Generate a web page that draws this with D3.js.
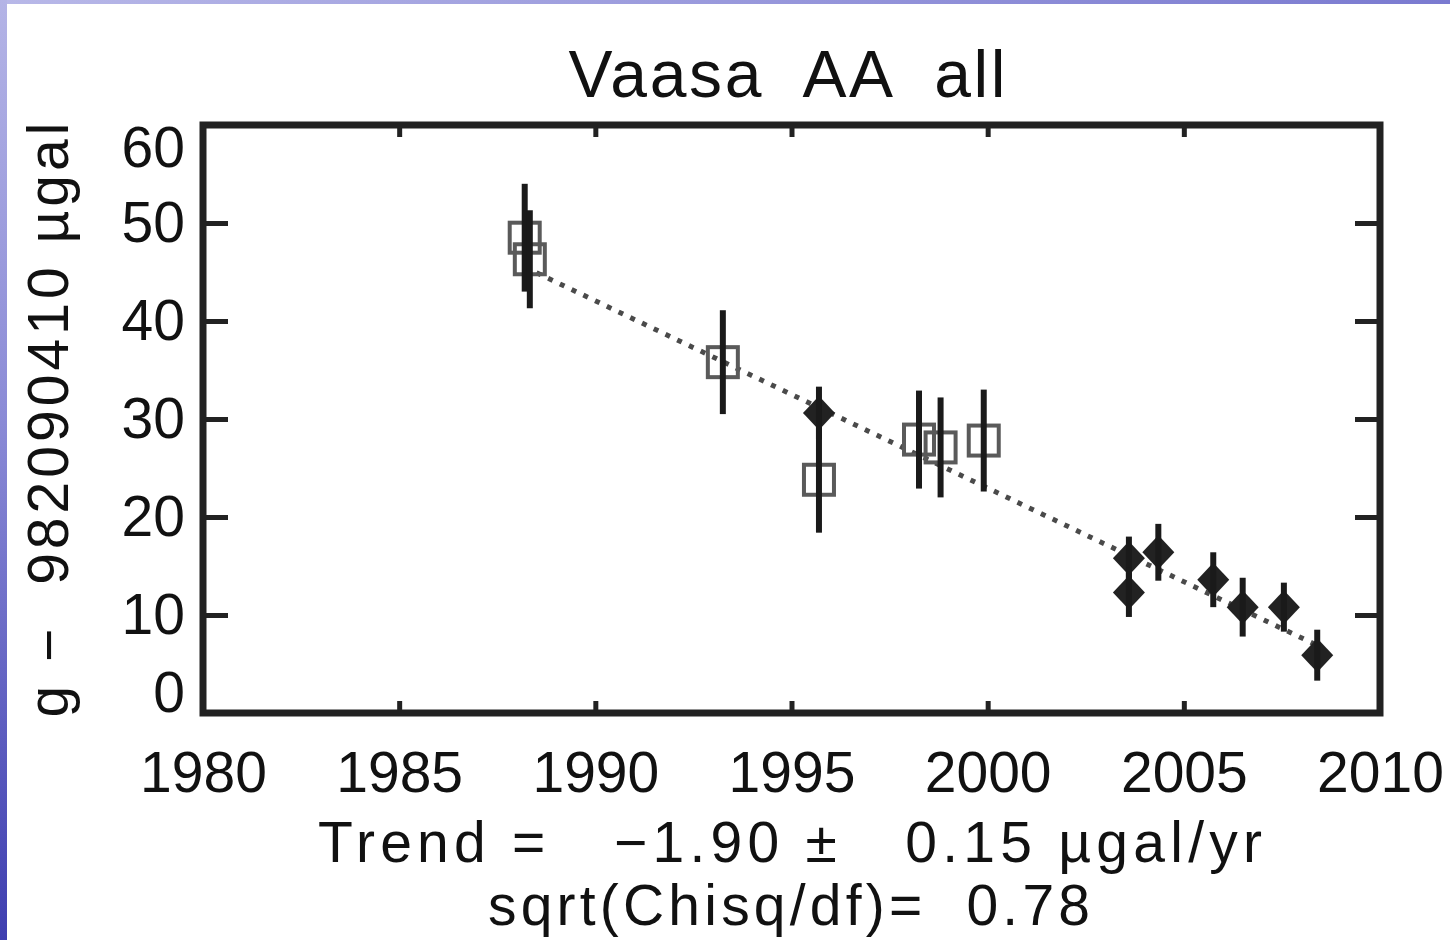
<!DOCTYPE html>
<html lang="en">
<head>
    <meta charset="UTF-8">
    <title>Vaasa AA all</title>
    <script src="https://d3js.org/d3.v7.min.js"></script>
    <style>
        body {
            margin: 0;
            background-color: #ffffff;
        }
        svg text {
            font-family: "Liberation Sans", Arial, sans-serif;
            fill: #111;
            white-space: pre;
        }
    </style>
</head>
<body>
    <svg id="chart" width="1450" height="940"></svg>

    <script>
        // Absolute gravity values, g - 982090410 (µgal)
        const squareYears  = [1988.2, 1988.33, 1993.25, 1995.7, 1998.25, 1998.8, 1999.9];
        const squareValues = [48.5, 46.3, 35.8, 23.8, 27.9, 27.1, 27.8];
        const squareErrors = [5.5, 5.0, 5.3, 5.4, 5.0, 5.1, 5.2];

        const diamondYears  = [1995.7, 2003.6, 2003.6, 2004.35, 2005.75, 2006.5, 2007.55, 2008.4];
        const diamondValues = [30.6, 15.8, 12.3, 16.4, 13.6, 10.8, 10.8, 5.9];
        const diamondErrors = [2.7, 2.2, 2.5, 2.9, 2.8, 3.0, 2.5, 2.6];

        // fitted trend line end points
        const trendYears  = [1988.2, 2008.4];
        const trendValues = [45.5, 6.9];

        const xTicks = [1980, 1985, 1990, 1995, 2000, 2005, 2010];
        const yTicks = [0, 10, 20, 30, 40, 50, 60];

        const titleText = "Vaasa  AA  all";
        const yLabel = "g \u2212  982090410 \u00b5gal";
        const trendText = "Trend =   \u22121.90 \u00b1   0.15 \u00b5gal/yr";
        const chiText = "sqrt(Chisq/df)=  0.78";

        const svg = d3.select("#chart");

        // blue slide border strips
        const defs = svg.append("defs");
        const gradLeft = defs.append("linearGradient")
            .attr("id", "gradLeft").attr("x1", 0).attr("y1", 0).attr("x2", 0).attr("y2", 1);
        gradLeft.append("stop").attr("offset", "0%").attr("stop-color", "#b4b4e6");
        gradLeft.append("stop").attr("offset", "45%").attr("stop-color", "#8a8ad6");
        gradLeft.append("stop").attr("offset", "100%").attr("stop-color", "#3e3eb0");
        const gradTop = defs.append("linearGradient")
            .attr("id", "gradTop").attr("x1", 0).attr("y1", 0).attr("x2", 1).attr("y2", 0);
        gradTop.append("stop").attr("offset", "0%").attr("stop-color", "#b8b8e8");
        gradTop.append("stop").attr("offset", "100%").attr("stop-color", "#7a7ad0");

        svg.append("rect").attr("x", 0).attr("y", 0).attr("width", 1450).attr("height", 4)
            .attr("fill", "url(#gradTop)");
        svg.append("rect").attr("x", 0).attr("y", 0).attr("width", 7).attr("height", 940)
            .attr("fill", "url(#gradLeft)");

        const x = d3.scaleLinear().domain([1980, 2010]).range([203, 1380]);
        const y = d3.scaleLinear().domain([0, 60]).range([713, 125]);

        const axisStyle = g => {
            g.select(".domain").remove();
            g.selectAll(".tick line").attr("stroke", "#222").attr("stroke-width", 5);
            g.selectAll(".tick text")
                .attr("font-family", "Liberation Sans, Arial, sans-serif")
                .attr("font-size", 57)
                .attr("fill", "#111");
        };

        // bottom axis with labels
        svg.append("g")
            .attr("transform", `translate(0,${y(0)})`)
            .call(d3.axisBottom(x).tickValues(xTicks).tickFormat(d3.format("d"))
                .tickSize(-12).tickPadding(39))
            .call(axisStyle);

        // top axis, ticks only
        svg.append("g")
            .attr("transform", `translate(0,${y(60)})`)
            .call(d3.axisTop(x).tickValues(xTicks).tickFormat("").tickSize(-12))
            .call(axisStyle);

        // left axis with labels, end labels kept inside the frame
        svg.append("g")
            .attr("transform", `translate(${x(1980)},0)`)
            .call(d3.axisLeft(y).tickValues(yTicks).tickFormat(d3.format("d"))
                .tickSize(-25).tickPadding(18))
            .call(axisStyle)
            .selectAll(".tick text")
            .attr("y", d => Math.min(Math.max(y(d), 148), 693) - y(d));

        // right axis, ticks only
        svg.append("g")
            .attr("transform", `translate(${x(2010)},0)`)
            .call(d3.axisRight(y).tickValues(yTicks).tickFormat("").tickSize(-25))
            .call(axisStyle);

        // frame
        svg.append("rect")
            .attr("x", x(1980)).attr("y", y(60))
            .attr("width", x(2010) - x(1980)).attr("height", y(0) - y(60))
            .attr("fill", "none").attr("stroke", "#222").attr("stroke-width", 7);

        // trend line (dotted)
        svg.append("path")
            .datum(trendYears.map((d, i) => [d, trendValues[i]]))
            .attr("fill", "none")
            .attr("stroke", "#4a4a4a")
            .attr("stroke-width", 5)
            .attr("stroke-dasharray", "5,8")
            .attr("d", d3.line().x(d => x(d[0])).y(d => y(d[1])));

        const squares = squareYears.map((d, i) => ({ year: d, value: squareValues[i], err: squareErrors[i] }));
        const diamonds = diamondYears.map((d, i) => ({ year: d, value: diamondValues[i], err: diamondErrors[i] }));

        // open squares
        svg.append("g").selectAll("rect")
            .data(squares).enter().append("rect")
            .attr("x", d => x(d.year) - 15)
            .attr("y", d => y(d.value) - 15)
            .attr("width", 30).attr("height", 30)
            .attr("fill", "none")
            .attr("stroke", "#5a5a5a")
            .attr("stroke-width", 4);

        // filled diamonds
        svg.append("g").selectAll("path")
            .data(diamonds).enter().append("path")
            .attr("transform", d => `translate(${x(d.year)},${y(d.value)})`)
            .attr("d", "M0,-17L16,0L0,17L-16,0Z")
            .attr("fill", "#222");

        // error bars
        svg.append("g").selectAll("line")
            .data(squares.concat(diamonds)).enter().append("line")
            .attr("x1", d => x(d.year)).attr("x2", d => x(d.year))
            .attr("y1", d => y(d.value + d.err))
            .attr("y2", d => y(d.value - d.err))
            .attr("stroke", "#1a1a1a")
            .attr("stroke-width", 6);

        // title
        svg.append("text")
            .attr("x", 787).attr("y", 97)
            .attr("text-anchor", "middle")
            .attr("font-size", 66)
            .attr("textLength", 437)
            .attr("lengthAdjust", "spacing")
            .text(titleText);

        // y axis label
        svg.append("text")
            .attr("transform", "translate(68,420) rotate(-90)")
            .attr("text-anchor", "middle")
            .attr("font-size", 57)
            .attr("textLength", 595)
            .attr("lengthAdjust", "spacing")
            .text(yLabel);

        // fit results below the axis
        svg.append("text")
            .attr("x", 790).attr("y", 862)
            .attr("text-anchor", "middle")
            .attr("font-size", 57)
            .attr("textLength", 944)
            .attr("lengthAdjust", "spacing")
            .text(trendText);

        svg.append("text")
            .attr("x", 789).attr("y", 925)
            .attr("text-anchor", "middle")
            .attr("font-size", 57)
            .attr("textLength", 602)
            .attr("lengthAdjust", "spacing")
            .text(chiText);
    </script>
</body>
</html>
